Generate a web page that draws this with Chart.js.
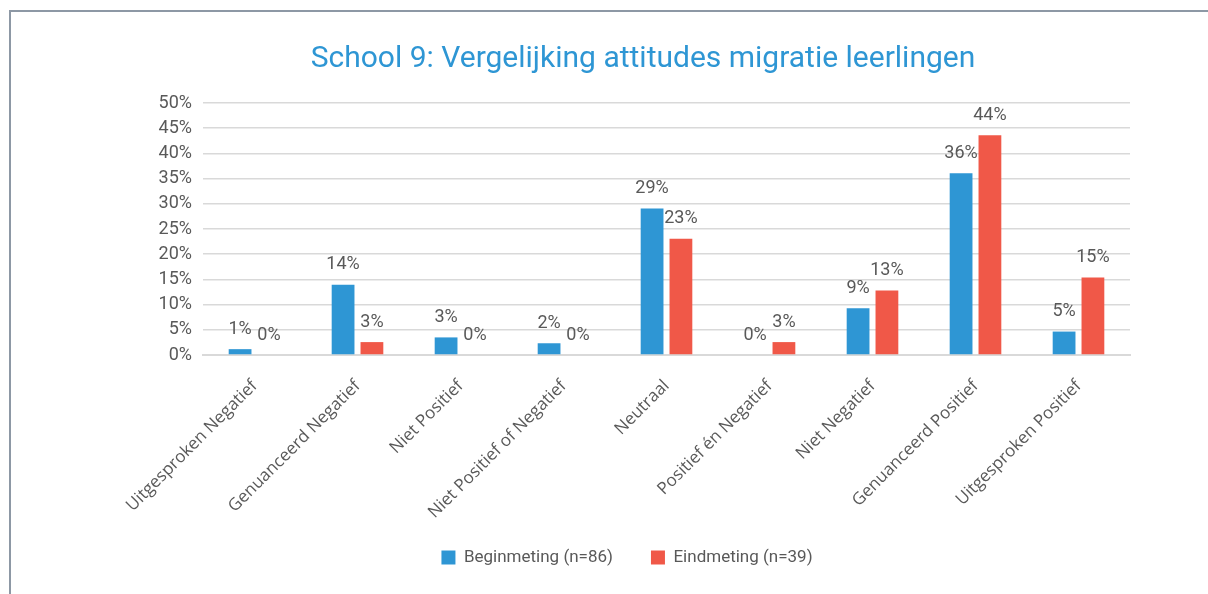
<!DOCTYPE html>
<html>
<head>
<meta charset="utf-8">
<script src="https://cdn.jsdelivr.net/npm/chart.js@4.4.1/dist/chart.umd.min.js"></script>
<style>
  html, body { margin: 0; padding: 0; background: #fff; overflow: hidden; }
  #wrap { position: relative; width: 1208px; height: 594px; }
  #frame { position: absolute; left: 9px; top: 10px; width: 1300px; height: 700px;
           border-left: 2px solid #8d98a5; border-top: 2px solid #8d98a5; pointer-events: none; }
</style>
</head>
<body>
<div id="wrap">
  <canvas id="myChart" width="1208" height="594"></canvas>
  <div id="frame"></div>
</div>
<script>
// DATA
const categories = ['Uitgesproken Negatief', 'Genuanceerd Negatief', 'Niet Positief', 'Niet Positief of Negatief',
  'Neutraal', 'Positief én Negatief', 'Niet Negatief', 'Genuanceerd Positief', 'Uitgesproken Positief'];
const beginValues = [1.16, 13.95, 3.49, 2.33, 29.07, 0, 9.30, 36.05, 4.65];
const eindValues = [0, 2.56, 0, 0, 23.08, 2.56, 12.82, 43.59, 15.38];
const seriesNames = ['Beginmeting (n=86)', 'Eindmeting (n=39)'];
const yTicks = [0, 5, 10, 15, 20, 25, 30, 35, 40, 45, 50];

const grey = '#595959';
const numFont = 'Roboto';
const legendGap = 38;

// DATA LABELS ABOVE BARS
const barLabels = {
  id: 'barLabels',
  afterDatasetsDraw(chart) {
    const c = chart.ctx;
    c.save();
    c.font = '18px ' + numFont;
    c.fillStyle = grey;
    c.textAlign = 'center';
    c.textBaseline = 'middle';
    chart.data.datasets.forEach((ds, i) => {
      chart.getDatasetMeta(i).data.forEach((bar, j) => {
        c.fillText(Math.round(ds.data[j]) + '%', bar.x, bar.y - 20);
      });
    });
    c.restore();
  }
};

// WIDE GAP BETWEEN LEGEND ITEMS WITHOUT A TALL LEGEND BOX,
// AND LEGEND A BIT LEFT OF THE PLOT CENTRE
const extra = legendGap - 10;
const legendTweak = {
  id: 'legendTweak',
  beforeLayout(chart) {
    const lg = chart.legend;
    if (lg && !lg._slim) {
      const fit = lg.fit;
      lg.fit = function () { fit.call(this); this.height -= extra; };
      lg._slim = true;
    }
  },
  afterLayout(chart) {
    const lg = chart.legend;
    lg.left -= 16;
    lg.right -= 16;
    lg.top -= extra;
  }
};

const ctx = document.getElementById('myChart').getContext('2d');
const myChart = new Chart(ctx, {
  type: 'bar',
  data: {
    labels: categories,
    datasets: [{
      label: seriesNames[0],
      data: beginValues,
      backgroundColor: '#2e96d4'
    }, {
      label: seriesNames[1],
      data: eindValues,
      backgroundColor: '#f05848'
    }]
  },
  options: {
    responsive: false,
    animation: false,
    events: [],
    categoryPercentage: 0.56,
    barPercentage: 0.79,
    layout: { padding: { left: 156, right: 78, top: 0, bottom: 18 } },
    plugins: {
      title: {
        display: true,
        text: 'School 9: Vergelijking attitudes migratie leerlingen',
        color: '#2e96d4',
        font: { family: numFont, size: 30, weight: 'normal' },
        padding: { top: 41, bottom: 26 }
      },
      legend: {
        position: 'bottom',
        labels: {
          color: grey,
          font: { family: numFont, size: 17 },
          boxWidth: 14, boxHeight: 14,
          padding: legendGap
        }
      },
      tooltip: { enabled: false }
    },
    scales: {
      x: {
        grid: { display: false },
        border: { color: '#d9d9d9', width: 2 },
        ticks: {
          color: grey,
          font: { family: 'Open Sans', size: 17 },
          minRotation: 45, maxRotation: 45,
          padding: 13
        },
        afterFit(scale) { scale.height = 184; }
      },
      y: {
        min: 0, max: 50,
        afterBuildTicks(scale) { scale.ticks = yTicks.map(v => ({ value: v })); },
        grid: { color: '#d9d9d9', lineWidth: 1.5, drawTicks: false },
        border: { display: false },
        ticks: {
          color: grey,
          font: { family: numFont, size: 18 },
          padding: 11,
          autoSkip: false,
          callback: v => v + '%'
        },
        afterFit(scale) { scale.width = 47; }
      }
    }
  },
  plugins: [barLabels, legendTweak]
});
</script>
</body>
</html>
